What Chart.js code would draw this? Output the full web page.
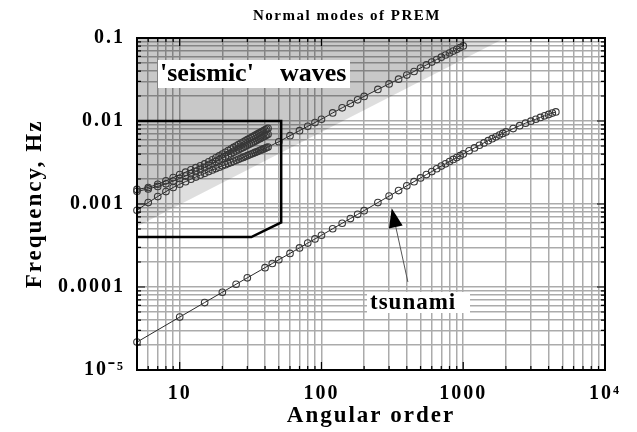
<!DOCTYPE html>
<html>
<head>
<meta charset="utf-8">
<title>Normal modes of PREM</title>
<script src="https://cdn.jsdelivr.net/npm/chart.js@4.4.1/dist/chart.umd.min.js"></script>
<style>
    html, body { margin: 0; padding: 0; background: #fff; }
    canvas { display: block; }
</style>
</head>
<body>
<canvas id="prem-chart" width="637" height="432"></canvas>
<script>
// angular orders of the low-order modes, one per integer l
const lowOrders = [5, 6, 7, 8, 9, 10, 11, 12, 13, 14, 15, 16, 17, 18, 19, 20, 21, 22, 23,
    24, 25, 26, 27, 28, 29, 30, 31, 32, 33, 34, 35, 36, 37, 38, 39, 40, 41, 42];

// frequencies in mHz
const fundamentalLow = [0.84, 1.04, 1.23, 1.41, 1.58, 1.73, 1.86, 1.99, 2.11, 2.23, 2.34, 2.46,
    2.57, 2.67, 2.78, 2.88, 2.98, 3.08, 3.17, 3.27, 3.36, 3.45, 3.55, 3.64, 3.73, 3.82, 3.91,
    4.00, 4.09, 4.18, 4.26, 4.35, 4.44, 4.52, 4.61, 4.69, 4.78, 4.86];
const overtoneA = [1.50, 1.58, 1.73, 1.90, 2.08, 2.26, 2.42, 2.58, 2.74, 2.89, 3.04, 3.22,
    3.41, 3.60, 3.80, 4.00, 4.20, 4.40, 4.60, 4.80, 4.99, 5.18, 5.38, 5.57, 5.76, 5.95, 6.14,
    6.33, 6.52, 6.71, 6.90, 7.09, 7.27, 7.45, 7.63, 7.81, 7.99, 8.17];
const overtoneB = [1.42, 1.52, 1.63, 1.75, 1.89, 2.03, 2.17, 2.31, 2.46, 2.60, 2.75, 2.92,
    3.08, 3.24, 3.40, 3.56, 3.72, 3.88, 4.04, 4.20, 4.36, 4.51, 4.66, 4.81, 4.96, 5.11, 5.26,
    5.41, 5.56, 5.71, 5.86, 6.01, 6.16, 6.31, 6.46, 6.61, 6.76, 6.91];

// fundamental branch carried on up to l = 1000
const highOrders = [50, 60, 70, 80, 90, 100, 120, 140, 160, 180, 200, 250, 300, 350, 400, 450,
    500, 550, 600, 650, 700, 750, 800, 850, 900, 950, 1000];
const fundamentalHigh = [5.62, 6.65, 7.65, 8.62, 9.57, 10.5, 12.5, 14.4, 16.2, 18.0, 19.8, 24.0,
    28.0, 31.9, 35.8, 39.5, 43.5, 47.4, 51.3, 55.0, 58.8, 62.4, 66.0, 69.6, 73.0, 76.6, 80.2];

const tsunamiOrders = [5, 10, 15, 20, 25, 30, 40, 45, 50, 60, 70, 80, 90, 100, 120, 140, 160,
    180, 200, 250, 300, 350, 400, 450, 500, 550, 600, 650, 700, 750, 800, 850, 900, 950, 1000,
    1100, 1200, 1300, 1400, 1500, 1600, 1700, 1800, 1900, 2000, 2250, 2500, 2750, 3000, 3250,
    3500, 3750, 4000, 4250, 4500];
const tsunamiFreq = [0.0217, 0.0434, 0.065, 0.0865, 0.108, 0.129, 0.171, 0.192, 0.213, 0.254,
    0.296, 0.338, 0.379, 0.42, 0.503, 0.586, 0.668, 0.75, 0.832, 1.04, 1.245, 1.45, 1.655, 1.86,
    2.06, 2.26, 2.46, 2.66, 2.86, 3.05, 3.25, 3.44, 3.63, 3.82, 4.01, 4.38, 4.74, 5.1, 5.45, 5.79,
    6.12, 6.45, 6.77, 7.08, 7.38, 8.1, 8.78, 9.42, 9.95, 10.5, 11.05, 11.55, 12.0, 12.45, 12.85];

// lower edge of the light grey band
const bandEdgeOrders = [5, 1970];
const bandEdgeFreq = [0.536, 100];

// outline round the low-order modes
const boxOrders = [5, 52, 52, 32, 5];
const boxFreq = [10, 10, 0.6, 0.4, 0.4];

const xTickValues = [10, 100, 1000, 10000];
const xTickLabels = ['10', '100', '1000', '10⁴'];
const yTickValues = [1e-5, 1e-4, 1e-3, 1e-2, 1e-1];
const yTickLabels = ['10⁻⁵', '0.0001', '0.001', '0.01', '0.1'];

const SERIF = "'Liberation Serif', 'Times New Roman', serif";

const toPoints = (orders, mhz) => orders.map((l, i) => ({ x: l, y: mhz[i] / 1000 }));

// 1..9 x 10^n between min and max, for the grid
function logGrid(min, max) {
    const out = [];
    for (let e = Math.floor(Math.log10(min)); e <= Math.ceil(Math.log10(max)); e++) {
        for (let s = 1; s <= 9; s++) {
            const v = Number((s * Math.pow(10, e)).toPrecision(6));
            if (v >= min * 0.999 && v <= max * 1.001) out.push(v);
        }
    }
    return out;
}

const isDecade = v => Math.abs(Math.log10(v) - Math.round(Math.log10(v))) < 1e-6;

function decadeLabel(values, labels) {
    return value => {
        const i = values.findIndex(v => Math.abs(Math.log10(v) - Math.log10(value)) < 1e-6);
        return i >= 0 ? labels[i] : '';
    };
}

const modeStyle = {
    showLine: true,
    borderColor: '#2a2a2a',
    borderWidth: 1,
    pointRadius: 3.3,
    pointBorderWidth: 1.1,
    pointBorderColor: '#383838',
    pointBackgroundColor: 'rgba(0,0,0,0)',
    clip: false,
    fill: false
};

function spacedText(ctx, text, x, y, size, spacing) {
    ctx.font = `bold ${size}px ${SERIF}`;
    ctx.letterSpacing = `${spacing}px`;
    ctx.fillText(text, x, y);
}

const annotations = {
    id: 'annotations',
    beforeDraw(chart) {
        chart.ctx.letterSpacing = '2px';
    },
    afterDatasetsDraw(chart) {
        const { ctx, scales: { x, y } } = chart;
        ctx.save();
        ctx.fillStyle = '#fff';
        ctx.fillRect(158, 60, 192, 28);
        ctx.fillRect(367, 292, 103, 21);

        ctx.fillStyle = '#000';
        ctx.textAlign = 'left';
        ctx.textBaseline = 'alphabetic';
        spacedText(ctx, "'seismic'", 160, 81, 26, 0);
        spacedText(ctx, 'waves', 280, 81, 26, 0);
        spacedText(ctx, 'tsunami', 370, 309, 23, 1);

        // arrow from the tsunami label up to its branch
        const tipX = x.getPixelForValue(313), tipY = y.getPixelForValue(0.000887);
        const tailX = x.getPixelForValue(407), tailY = y.getPixelForValue(0.000115);
        const ang = Math.atan2(tipY - tailY, tipX - tailX);
        const headLen = 19, headHalf = 7;
        const baseX = tipX - headLen * Math.cos(ang), baseY = tipY - headLen * Math.sin(ang);
        ctx.strokeStyle = '#555';
        ctx.lineWidth = 1;
        ctx.beginPath();
        ctx.moveTo(tailX, tailY);
        ctx.lineTo(baseX, baseY);
        ctx.stroke();
        ctx.beginPath();
        ctx.moveTo(tipX, tipY);
        ctx.lineTo(baseX + headHalf * Math.sin(ang), baseY - headHalf * Math.cos(ang));
        ctx.lineTo(baseX - headHalf * Math.sin(ang), baseY + headHalf * Math.cos(ang));
        ctx.closePath();
        ctx.fill();
        ctx.restore();
    },
    afterDraw(chart) {
        const { ctx, chartArea: a, scales: { x, y } } = chart;
        ctx.save();
        ctx.strokeStyle = '#000';
        ctx.lineWidth = 1.2;
        ctx.beginPath();
        x.ticks.forEach(t => {
            const px = x.getPixelForValue(t.value);
            const len = isDecade(t.value) ? 8 : 4;
            ctx.moveTo(px, a.bottom); ctx.lineTo(px, a.bottom - len);
            ctx.moveTo(px, a.top); ctx.lineTo(px, a.top + len);
        });
        y.ticks.forEach(t => {
            const py = y.getPixelForValue(t.value);
            const len = isDecade(t.value) ? 8 : 4;
            ctx.moveTo(a.left, py); ctx.lineTo(a.left + len, py);
            ctx.moveTo(a.right, py); ctx.lineTo(a.right - len, py);
        });
        ctx.stroke();
        ctx.lineWidth = 2;
        ctx.strokeRect(a.left, a.top, a.right - a.left, a.bottom - a.top);

        ctx.fillStyle = '#000';
        ctx.textAlign = 'left';
        ctx.textBaseline = 'alphabetic';
        spacedText(ctx, 'Normal modes of PREM', 253, 20, 15, 1.5);
        ctx.restore();
    }
};

const xGrid = logGrid(5, 10000);
const yGrid = logGrid(1e-5, 0.1);

new Chart(document.getElementById('prem-chart'), {
    type: 'scatter',
    data: {
        datasets: [
            {
                label: 'outline',
                data: toPoints(boxOrders, boxFreq),
                showLine: true,
                borderColor: '#000',
                borderWidth: 2.5,
                pointRadius: 0,
                fill: false
            },
            { label: 'tsunami', data: toPoints(tsunamiOrders, tsunamiFreq), ...modeStyle },
            { label: 'overtone A', data: toPoints(lowOrders, overtoneA), ...modeStyle },
            { label: 'overtone B', data: toPoints(lowOrders, overtoneB), ...modeStyle },
            {
                label: 'fundamental',
                data: toPoints(lowOrders.concat(highOrders), fundamentalLow.concat(fundamentalHigh)),
                ...modeStyle,
                fill: 'end',
                backgroundColor: 'rgba(0,0,0,0.10)'
            },
            {
                label: 'band',
                data: toPoints(bandEdgeOrders, bandEdgeFreq),
                showLine: true,
                borderColor: 'rgba(0,0,0,0)',
                borderWidth: 0,
                pointRadius: 0,
                fill: 'end',
                backgroundColor: 'rgba(0,0,0,0.13)'
            }
        ]
    },
    options: {
        responsive: false,
        animation: false,
        events: [],
        layout: { padding: { top: 38, right: 32, bottom: 0, left: 0 } },
        plugins: {
            legend: { display: false },
            tooltip: { enabled: false },
            filler: { drawTime: 'beforeDatasetsDraw' }
        },
        scales: {
            x: {
                type: 'logarithmic',
                min: 5,
                max: 10000,
                afterFit: scale => { scale.height = 62; },
                afterBuildTicks: scale => { scale.ticks = xGrid.map(v => ({ value: v })); },
                grid: { color: '#ababab', lineWidth: 1.5, drawTicks: false },
                border: { display: false },
                ticks: {
                    autoSkip: false,
                    maxRotation: 0,
                    minRotation: 0,
                    padding: 12,
                    color: '#000',
                    font: { family: SERIF, size: 20, weight: 'bold' },
                    callback: decadeLabel(xTickValues, xTickLabels)
                },
                title: {
                    display: true,
                    text: 'Angular order',
                    color: '#000',
                    font: { family: SERIF, size: 23, weight: 'bold' },
                    padding: 2
                }
            },
            y: {
                type: 'logarithmic',
                min: 1e-5,
                max: 0.1,
                afterFit: scale => { scale.width = 137; },
                afterBuildTicks: scale => { scale.ticks = yGrid.map(v => ({ value: v })); },
                grid: { color: '#ababab', lineWidth: 1.5, drawTicks: false },
                border: { display: false },
                ticks: {
                    autoSkip: false,
                    padding: 12,
                    color: '#000',
                    font: { family: SERIF, size: 20, weight: 'bold' },
                    callback: decadeLabel(yTickValues, yTickLabels)
                },
                title: {
                    display: true,
                    text: 'Frequency, Hz',
                    color: '#000',
                    font: { family: SERIF, size: 23, weight: 'bold' },
                    padding: 21
                }
            }
        }
    },
    plugins: [annotations]
});
</script>
</body>
</html>
